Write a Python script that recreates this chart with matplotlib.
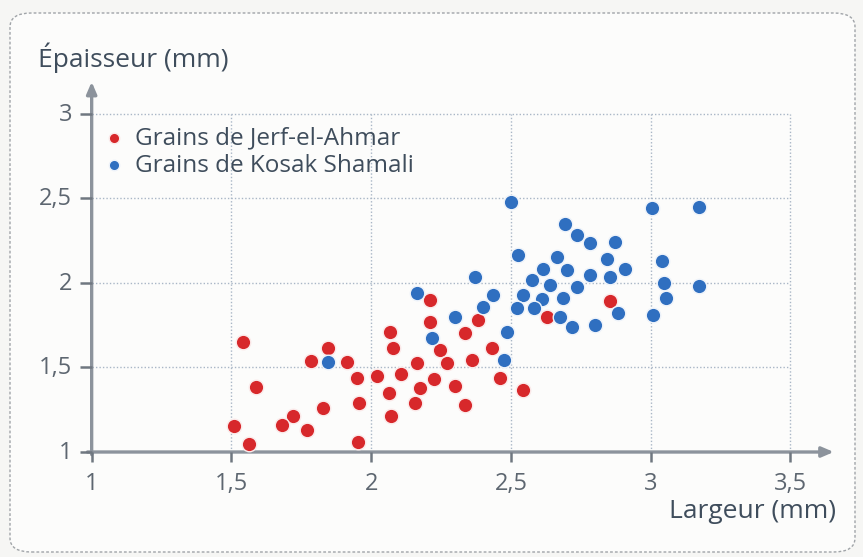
import matplotlib
matplotlib.use("Agg")
import matplotlib.pyplot as plt
from matplotlib.patches import FancyBboxPatch

# Data: Jerf-el-Ahmar grains (red)
jerf_largeur = [1.540, 1.847, 1.785, 1.912, 1.948, 2.020, 2.067, 2.077, 2.065, 2.070,
                1.587, 1.826, 1.956, 1.510, 1.564, 1.721, 1.680, 1.769, 1.954, 2.210,
                2.210, 2.383, 2.336, 2.246, 2.431, 2.163, 2.270, 2.360, 2.107, 2.225,
                2.300, 2.461, 2.544, 2.175, 2.157, 2.336, 2.630, 2.854]
jerf_epaisseur = [1.653, 1.617, 1.540, 1.534, 1.440, 1.450, 1.712, 1.614, 1.351, 1.213,
                  1.386, 1.262, 1.292, 1.154, 1.047, 1.213, 1.160, 1.130, 1.057, 1.899,
                  1.771, 1.781, 1.706, 1.604, 1.614, 1.525, 1.525, 1.544, 1.462, 1.432,
                  1.392, 1.436, 1.367, 1.377, 1.292, 1.278, 1.797, 1.895]

# Data: Kosak Shamali grains (blue)
kosak_largeur = [1.847, 2.163, 2.300, 2.216, 2.485, 2.475, 2.371, 2.400, 2.437, 2.499,
                 3.003, 3.173, 2.693, 2.737, 2.783, 2.872, 2.526, 2.664, 2.845, 3.039,
                 2.614, 2.700, 2.908, 2.783, 2.854, 2.574, 2.640, 2.735, 3.048, 3.173,
                 2.544, 2.610, 2.687, 3.054, 2.520, 2.584, 2.675, 2.884, 2.717, 2.800,
                 3.010]
kosak_epaisseur = [1.534, 1.939, 1.797, 1.673, 1.712, 1.544, 2.037, 1.860, 1.929, 2.481,
                   2.442, 2.452, 2.347, 2.284, 2.235, 2.244, 2.166, 2.152, 2.140, 2.130,
                   2.081, 2.077, 2.083, 2.047, 2.037, 2.018, 1.988, 1.978, 2.002, 1.982,
                   1.929, 1.905, 1.909, 1.909, 1.850, 1.850, 1.800, 1.820, 1.742, 1.751,
                   1.811]

x_ticks = [1, 1.5, 2, 2.5, 3, 3.5]
x_tick_labels = ["1", "1,5", "2", "2,5", "3", "3,5"]
y_ticks = [1, 1.5, 2, 2.5, 3]
y_tick_labels = ["1", "1,5", "2", "2,5", "3"]

series_names = ["Grains de Jerf-el-Ahmar", "Grains de Kosak Shamali"]

RED = "#d7282b"
BLUE = "#2f6fc0"
TEXT = "#3f4d5c"
TICKTXT = "#5d6670"
AXIS = "#8c939c"
GRID = "#a9b6c6"

plt.rcParams['font.family'] = ['Open Sans', 'DejaVu Sans']

fig = plt.figure(figsize=(8.63, 5.57), dpi=100)
fig.patch.set_facecolor("#f6f6f4")

box = FancyBboxPatch((10/863, 1 - 552/557), 845/863, 539/557,
                     boxstyle="round,pad=0,rounding_size=0.025",
                     transform=fig.transFigure, facecolor="#fcfcfb",
                     edgecolor="#a0a4a8", linewidth=1.0, linestyle=(0, (2, 1.5)),
                     zorder=-10)
fig.patches.append(box)

ax = fig.add_axes([0.0965, 0.1794, 0.868, 0.6828], zorder=1)
ax.set_facecolor("none")
ax.set_xlim(0.97, 3.65)
ax.set_ylim(0.97, 3.22)
for s in ax.spines.values():
    s.set_visible(False)
ax.set_xticks([])
ax.set_yticks([])

# grid (dotted), limited to the tick range
ax.vlines(x_ticks[1:], y_ticks[0], y_ticks[-1], colors=GRID, linestyles=(0, (1, 1.5)),
          linewidth=1.0, zorder=1)
ax.hlines(y_ticks[1:], x_ticks[0], x_ticks[-1], colors=GRID, linestyles=(0, (1, 1.5)),
          linewidth=1.0, zorder=1)

# axes with arrows
ax.annotate("", xy=(3.655, 1), xytext=(0.985, 1), xycoords="data",
            arrowprops=dict(arrowstyle="-|>,head_length=0.7,head_width=0.3",
                            color=AXIS, lw=2.4, shrinkA=0, shrinkB=0), zorder=2,
            annotation_clip=False)
ax.annotate("", xy=(1, 3.19), xytext=(1, 0.985), xycoords="data",
            arrowprops=dict(arrowstyle="-|>,head_length=0.7,head_width=0.3",
                            color=AXIS, lw=2.4, shrinkA=0, shrinkB=0), zorder=2,
            annotation_clip=False)

# tick marks and labels
ax.vlines(x_ticks, 0.94, 1.0, colors="#6f7780", linewidth=1.8, zorder=2, clip_on=False)
ax.hlines(y_ticks, 0.957, 1.0, colors="#6f7780", linewidth=1.8, zorder=2, clip_on=False)
for xv, lab in zip(x_ticks, x_tick_labels):
    ax.text(xv, 0.778, lab, ha="center", va="baseline", fontsize=17, color=TICKTXT)
for yv, lab in zip(y_ticks, y_tick_labels):
    ax.text(0.93, yv + 0.012, lab, ha="right", va="center_baseline", fontsize=17,
            color=TICKTXT)

ax.scatter(jerf_largeur, jerf_epaisseur, s=110, color=RED, edgecolors="#fbeaea",
           linewidths=1.0, zorder=3, label=series_names[0])
ax.scatter(kosak_largeur, kosak_epaisseur, s=110, color=BLUE, edgecolors="#eef3fa",
           linewidths=1.0, zorder=4, label=series_names[1])

leg = ax.legend(loc="upper left", bbox_to_anchor=(0.025, 0.87), frameon=False,
                fontsize=17.5, handletextpad=0.35, markerscale=0.72, labelspacing=0.15,
                borderaxespad=0, handlelength=1.0, borderpad=0)
for t in leg.get_texts():
    t.set_color(TEXT)

fig.text(38/863, 1 - 58/557, "Épaisseur (mm)", ha="left", va="center",
         fontsize=19, color=TEXT)
fig.text(836/863, 1 - 512/557, "Largeur (mm)", ha="right", va="center",
         fontsize=19, color=TEXT)

fig.savefig("out.png", dpi=100, facecolor=fig.get_facecolor())
